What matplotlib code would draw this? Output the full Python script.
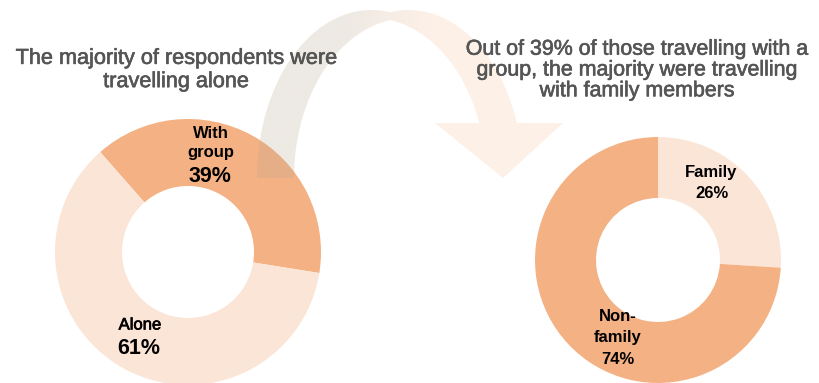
import numpy as np
import matplotlib
matplotlib.use("Agg")
import matplotlib.pyplot as plt
import matplotlib.patheffects as pe
from matplotlib.path import Path
from matplotlib.patches import PathPatch

# Travel composition data
overall_labels = ["With\ngroup", "Alone"]
overall_values = [39, 61]
group_labels = ["Family", "Non-\nfamily"]
group_values = [26, 74]

title_left = "The majority of respondents were\ntravelling alone"
title_right = ("Out of 39% of those travelling with a\n"
               "group, the majority were travelling\n"
               "with family members")

DARK = "#F4B183"
LIGHT = "#FBE5D6"
TITLE_COLOR = "#555555"

W, H = 819, 383
fig = plt.figure(figsize=(W / 100, H / 100), dpi=100)
ax = fig.add_axes([0, 0, 1, 1])


def up(y):
    """Convert a top-down pixel row into the axes' upward y coordinate."""
    return H - y


# Left donut: overall travel mode
ax.pie(overall_values, colors=[DARK, LIGHT], startangle=131.3,
       counterclock=False, center=(188, up(252)), radius=133,
       wedgeprops=dict(width=67, edgecolor="none"))

# Right donut: breakdown of group travellers
ax.pie(group_values, colors=[LIGHT, DARK], startangle=90,
       counterclock=False, center=(658, up(260)), radius=123,
       wedgeprops=dict(width=61, edgecolor="none"))

# Curved connector arrow between the two donuts
a, b_out, b_in = 114.6, 168.0, 160.0
cxA, cxB, cy = 371.6, 408.6, 178.0
y_base = 123.0


def arc(cx, b, t0, t1, n=60):
    t = np.linspace(t0, t1, n)
    return np.column_stack([cx + a * np.cos(t), up(cy - b * np.sin(t))])


t_mid_A = np.arccos((390.1 - cxA) / a)
t_mid_B = np.arccos((390.1 - cxB) / a)
pts = [
    arc(cxA, b_out, np.pi, t_mid_A),
    arc(cxB, b_out, t_mid_B, np.arcsin((cy - y_base) / b_out)),
    np.array([[563, up(y_base)], [503, up(178)], [435, up(y_base)]]),
    arc(cxA, b_in, np.arcsin((cy - y_base) / b_in), t_mid_A),
    arc(cxB, b_in, t_mid_B, np.pi),
]
verts = np.vstack(pts)
verts = np.vstack([verts, verts[:1]])
codes = [Path.MOVETO] + [Path.LINETO] * (len(verts) - 2) + [Path.CLOSEPOLY]
arrow = PathPatch(Path(verts, codes), facecolor="none", edgecolor="none")
ax.add_patch(arrow)

xs = np.linspace(240, 580, 300)
frac = np.clip((xs - 340) / 90, 0, 1)
c_left = np.array([184, 166, 144]) / 255
c_right = np.array([247, 195, 159]) / 255
grad = np.zeros((2, len(xs), 4))
grad[..., :3] = c_left + (c_right - c_left) * frac[:, None]
grad[..., 3] = 0.25
img = ax.imshow(grad, extent=(240, 580, up(185), up(0)), origin="lower",
                interpolation="bilinear", zorder=3, aspect="auto")
img.set_clip_path(arrow)

# Titles
heavy = [pe.withStroke(linewidth=0.45, foreground=TITLE_COLOR)]
ax.text(176, up(70), title_left, ha="center", va="center", fontsize=15.6,
        color=TITLE_COLOR, family="Liberation Sans", linespacing=1.14,
        path_effects=heavy)
ax.text(637, up(70), title_right, ha="center", va="center", fontsize=15.4,
        color=TITLE_COLOR, family="Liberation Sans", linespacing=1.12,
        path_effects=heavy)

# Slice labels
lab = dict(ha="center", va="center", color="black", family="Liberation Sans",
           zorder=5)
ax.text(211, up(143), overall_labels[0], fontsize=12, fontweight="bold",
        linespacing=1.35, **lab)
ax.text(210, up(177), f"{overall_values[0]}%", fontsize=15.5,
        fontweight="bold", **lab)
ax.text(140, up(325), overall_labels[1], fontsize=12,
        path_effects=[pe.withStroke(linewidth=0.5, foreground="black")],
        **lab)
ax.text(139, up(348), f"{overall_values[1]}%", fontsize=15.5,
        fontweight="bold", **lab)

ax.text(711, up(173), group_labels[0], fontsize=12, fontweight="bold", **lab)
ax.text(712, up(193), f"{group_values[0]}%", fontsize=12, fontweight="bold",
        **lab)
ax.text(618, up(327), group_labels[1], fontsize=12, fontweight="bold",
        linespacing=1.45, **lab)
ax.text(618, up(360), f"{group_values[1]}%", fontsize=12, fontweight="bold",
        **lab)

ax.set_xlim(0, W)
ax.set_ylim(0, H)
ax.set_aspect("equal")
ax.axis("off")

fig.savefig("out.png", dpi=100, facecolor="white")
